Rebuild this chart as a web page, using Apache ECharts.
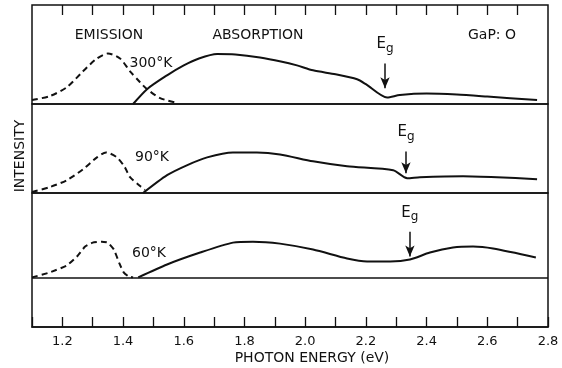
<!DOCTYPE html>
<html>
<head>
<meta charset="utf-8">
<script src="https://cdn.jsdelivr.net/npm/echarts@6/dist/echarts.min.js"></script>
<style>
  html, body { margin: 0; padding: 0; background: #fff; }
  #chart { width: 562px; height: 368px; }
</style>
</head>
<body>
<div id="chart"></div>
<script>
// Photon energy axis (eV) and its labelled ticks
const tickLabels = ['1.2', '1.4', '1.6', '1.8', '2.0', '2.2', '2.4', '2.6', '2.8'];
// Tick positions along the upper edge of the frame (eV)
const topTicks = ['1.2', '1.3', '1.4', '1.5', '1.6', '1.7', '1.8', '1.9', '2.0', '2.1', '2.2', '2.3', '2.4', '2.5', '2.6', '2.7'];

// GaP:O spectra, [photon energy (eV), intensity (arb. units above panel baseline)]
const emission300 = [[1.10,0.4],[1.159,0.8],[1.215,1.7],[1.268,3.3],[1.314,4.6],[1.350,5.1],[1.390,4.6],[1.423,3.3],[1.456,2.2],[1.479,1.5],[1.522,0.6],[1.578,0.1]];
const absorption300 = [[1.433,0],[1.479,1.5],[1.545,2.9],[1.600,3.9],[1.650,4.6],[1.710,5.05],[1.770,5.0],[1.851,4.7],[1.920,4.3],[1.973,3.9],[2.026,3.4],[2.100,3.0],[2.171,2.5],[2.200,2.0],[2.270,0.65],[2.312,0.9],[2.400,1.05],[2.500,0.95],[2.600,0.75],[2.764,0.4]];

const emission90 = [[1.10,0.1],[1.159,0.6],[1.215,1.3],[1.268,2.4],[1.314,3.6],[1.344,4.1],[1.380,3.6],[1.406,2.6],[1.423,1.6],[1.456,0.7],[1.472,0.3]];
const absorption90 = [[1.466,0],[1.545,1.8],[1.610,2.8],[1.677,3.6],[1.762,4.1],[1.841,4.1],[1.917,3.9],[2.026,3.2],[2.138,2.7],[2.290,2.3],[2.336,1.5],[2.378,1.6],[2.520,1.7],[2.632,1.6],[2.764,1.4]];

const emission60 = [[1.10,0],[1.159,0.5],[1.215,1.2],[1.248,2.1],[1.275,3.1],[1.300,3.5],[1.330,3.6],[1.350,3.5],[1.370,2.8],[1.388,1.4],[1.402,0.5],[1.417,0.12],[1.433,0]];
const absorption60 = [[1.450,0],[1.545,1.3],[1.654,2.5],[1.762,3.5],[1.828,3.6],[1.917,3.4],[2.026,2.8],[2.138,1.9],[2.204,1.6],[2.280,1.6],[2.345,1.8],[2.411,2.5],[2.487,3.0],[2.553,3.1],[2.619,2.9],[2.760,2.0]];

// Band-gap markers: [energy, arrow top, arrow tip] per panel
const gap300 = [2.263, 4.1, 1.6];
const gap90 = [2.332, 4.2, 2.0];
const gap60 = [2.345, 4.6, 2.1];

const FONT = 'DejaVu Sans';
const INK = '#111';
const TICK_LEN = 10;

const chart = echarts.init(document.getElementById('chart'), null, { renderer: 'canvas' });

const frame = { show: true, borderColor: INK, borderWidth: 1.5, backgroundColor: 'transparent', containLabel: false, outerBoundsMode: 'none' };
const grids = [
  Object.assign({ left: 32, right: 14, top: 5, height: 99 }, frame),
  Object.assign({ left: 32, right: 14, top: 104, height: 89 }, frame),
  Object.assign({ left: 32, right: 14, top: 193, height: 134 }, frame)
];

function labelFormatter(v) {
  return tickLabels.find(t => Math.abs(parseFloat(t) - v) < 1e-6) || '';
}

function bottomAxis(gridIndex, labelColor, withTicks, withLine) {
  return {
    type: 'value', gridIndex, position: 'bottom', min: 1.1, max: 2.8, interval: 0.1,
    axisLine: { show: withLine, onZero: false, lineStyle: { color: INK, width: 1.5 } },
    splitLine: { show: false },
    axisTick: { show: withTicks, inside: true, length: TICK_LEN, lineStyle: { color: INK, width: 1.3 } },
    axisLabel: { show: true, margin: 8, color: labelColor, fontFamily: FONT, fontSize: 13, formatter: labelFormatter }
  };
}

const xAxes = [
  bottomAxis(0, 'transparent', false, false),
  bottomAxis(1, 'transparent', false, false),
  bottomAxis(2, INK, true, true)
];

// Panel 1 spans 0..10 over 99px, so one tick length is about 1 unit
const yAxes = [
  { type: 'value', gridIndex: 0, min: 0, max: 10, show: false },
  { type: 'value', gridIndex: 1, min: 0, max: 9, show: false },
  { type: 'value', gridIndex: 2, min: -5, max: 8.5, show: false }
];

function curve(data, idx, dashed, smooth) {
  return {
    type: 'line', xAxisIndex: idx, yAxisIndex: idx, data,
    smooth: smooth, symbol: 'none', silent: true,
    lineStyle: { color: INK, width: 2, type: dashed ? [6, 4] : 'solid' }
  };
}

function gapMarker(g, idx, withBaseline) {
  const lines = [[
    { coord: [g[0], g[1]], symbol: 'none' },
    { coord: [g[0], g[2]], symbol: 'arrow', symbolSize: [7, 11] }
  ]];
  if (withBaseline) {
    lines.push([{ coord: [1.1, 0], symbol: 'none' }, { coord: [2.8, 0], symbol: 'none' }]);
  }
  return {
    type: 'line', xAxisIndex: idx, yAxisIndex: idx, data: [], silent: true,
    markLine: {
      silent: true, animation: false,
      lineStyle: { color: INK, width: 1.5, type: 'solid' },
      label: { show: false },
      data: lines
    },
    markPoint: {
      silent: true, symbol: 'circle', symbolSize: 0,
      label: {
        show: true, position: 'top', distance: 9, color: INK,
        formatter: '{e|E}{s|g}',
        rich: {
          e: { fontFamily: FONT, fontSize: 15, color: INK },
          s: { fontFamily: FONT, fontSize: 12, color: INK, padding: [8, 0, 0, 0] }
        }
      },
      data: [{ coord: [g[0], g[1]] }]
    }
  };
}

// Upper frame ticks, hanging down from the top edge of panel 1
const topTickSeries = {
  type: 'line', xAxisIndex: 0, yAxisIndex: 0, data: [], silent: true,
  markLine: {
    silent: true, animation: false, symbol: 'none',
    lineStyle: { color: INK, width: 1.3, type: 'solid' },
    label: { show: false },
    data: topTicks.map(t => [
      { coord: [parseFloat(t), 10], symbol: 'none' },
      { coord: [parseFloat(t), 10 - TICK_LEN / 9.9], symbol: 'none' }
    ])
  }
};

function text(x, y, str, size, extra) {
  return Object.assign({
    type: 'text', x, y,
    style: { text: str, fill: INK, font: `${size}px "${FONT}"`, textAlign: 'center', textVerticalAlign: 'middle' }
  }, extra || {});
}

chart.setOption({
  animation: false,
  backgroundColor: '#fff',
  grid: grids,
  xAxis: xAxes,
  yAxis: yAxes,
  series: [
    curve(emission300, 0, true, 0.25), curve(absorption300, 0, false, 0.25), gapMarker(gap300, 0, false),
    curve(emission90, 1, true, 0.25), curve(absorption90, 1, false, 0.25), gapMarker(gap90, 1, false),
    curve(emission60, 2, true, 0.12), curve(absorption60, 2, false, 0.25), gapMarker(gap60, 2, true),
    topTickSeries
  ],
  graphic: [
    text(109, 35, 'EMISSION', 14),
    text(258, 35, 'ABSORPTION', 14),
    text(492, 35, 'GaP: O', 14),
    text(151, 63, '300°K', 14),
    text(152, 157, '90°K', 14),
    text(149, 253, '60°K', 14),
    text(312, 358, 'PHOTON ENERGY (eV)', 14),
    text(20, 156, 'INTENSITY', 14, { rotation: Math.PI / 2 })
  ]
});
</script>
</body>
</html>
